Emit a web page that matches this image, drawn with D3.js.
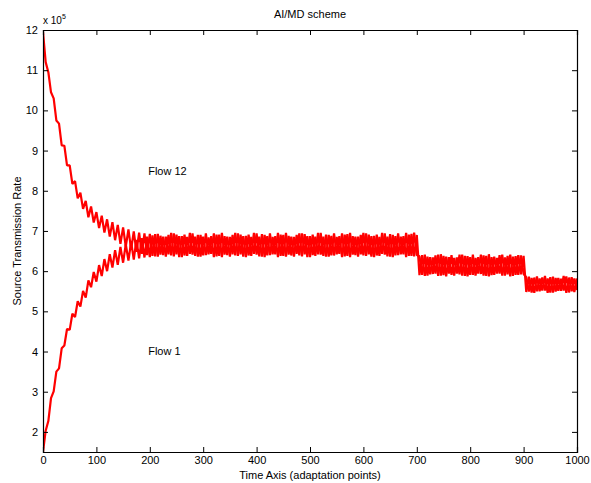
<!DOCTYPE html>
<html><head><meta charset="utf-8">
<script src="https://cdn.jsdelivr.net/npm/d3@7"></script>
<style>
body{margin:0;background:#fff;}
text{font-family:"Liberation Sans",Arial,Helvetica,sans-serif;}
</style></head>
<body><svg id="chart" width="591" height="483"></svg>
<script>
// adaptation points: 0..1000 every 5
const timePoints = d3.range(0, 1001, 5);
const xTicks = [0,100,200,300,400,500,600,700,800,900,1000];
const yTicks = [2,3,4,5,6,7,8,9,10,11,12];
// rates in units of 1e5
const flow12 = [
 11.95,11.2,10.95,10.45,10.3,9.75,9.67,9.13,9.12,8.63,
 8.63,8.17,8.24,7.81,7.95,7.55,7.75,7.34,7.61,7.21,
 7.47,7.07,7.38,6.96,7.29,6.86,7.22,6.77,7.15,6.68,
 7.09,6.61,7.04,6.54,6.99,6.48,6.96,6.43,6.94,6.40,6.93,
 6.38,6.92,6.36,6.88,6.40,6.86,6.42,6.95,6.37,6.91,
 6.35,6.87,6.39,6.85,6.43,6.94,6.38,6.90,6.36,6.86,
 6.40,6.84,6.43,6.94,6.37,6.91,6.35,6.87,6.40,6.85,
 6.42,6.95,6.38,6.91,6.36,6.88,6.39,6.85,6.43,6.94,
 6.37,6.92,6.35,6.87,6.40,6.85,6.42,6.95,6.38,6.90,
 6.36,6.88,6.39,6.85,6.43,6.94,6.37,6.92,6.35,6.87,
 6.40,6.86,6.42,6.95,6.38,6.91,6.36,6.88,6.39,6.85,
 6.43,6.94,6.37,6.92,6.35,6.87,6.40,6.86,6.42,6.95,
 6.38,6.91,6.36,6.88,6.39,6.85,6.43,6.94,6.37,6.92,
 6.35,6.87,6.40,6.86,6.42,6.95,6.38,6.93,6.37,6.90,
 5.90,6.40,5.88,6.36,5.92,6.34,5.94,6.41,5.89,6.38,
 5.87,6.35,5.91,6.33,5.94,6.41,5.89,6.38,5.87,6.35,
 5.91,6.33,5.94,6.41,5.89,6.38,5.87,6.35,5.91,6.33,
 5.94,6.41,5.89,6.38,5.87,6.36,5.91,6.40,5.92,6.38,
 5.48,5.86,5.47,5.84,5.50,5.82,5.52,5.88,5.46,5.85,
 5.47,5.83,5.51,5.81,5.52,5.87,5.47,5.85,5.48,5.82
];
const flow1 = [
 1.5,2.03,2.27,2.84,3.01,3.5,3.58,4.08,4.15,4.56,
 4.54,4.94,4.86,5.25,5.12,5.51,5.34,5.77,5.6,5.98,
 5.74,6.15,5.88,6.30,6.0,6.42,6.09,6.52,6.16,6.60,
 6.21,6.67,6.26,6.73,6.29,6.78,6.32,6.82,6.34,6.86,6.35,
 6.89,6.37,6.93,6.41,6.86,6.36,6.90,6.39,6.94,6.42,
 6.87,6.35,6.91,6.38,6.95,6.41,6.86,6.36,6.90,6.39,
 6.94,6.42,6.87,6.35,6.91,6.38,6.95,6.41,6.86,6.36,
 6.90,6.39,6.94,6.42,6.87,6.35,6.91,6.38,6.95,6.41,
 6.86,6.36,6.90,6.39,6.94,6.42,6.87,6.35,6.91,6.38,
 6.95,6.41,6.86,6.36,6.90,6.39,6.94,6.42,6.87,6.35,
 6.91,6.38,6.95,6.41,6.86,6.36,6.90,6.39,6.94,6.42,
 6.87,6.35,6.91,6.38,6.95,6.41,6.86,6.36,6.90,6.39,
 6.94,6.42,6.87,6.35,6.91,6.38,6.95,6.41,6.86,6.36,
 6.90,6.39,6.94,6.42,6.87,6.35,6.91,6.38,6.96,6.40,
 6.37,5.91,6.41,5.89,6.35,5.93,6.39,5.88,6.42,5.90,
 6.36,5.94,6.40,5.89,6.34,5.92,6.41,5.88,6.37,5.91,
 6.41,5.89,6.35,5.93,6.39,5.88,6.42,5.90,6.36,5.94,
 6.40,5.89,6.34,5.92,6.41,5.88,6.37,5.91,6.39,5.93,
 5.85,5.49,5.83,5.46,5.87,5.50,5.84,5.52,5.82,5.47,
 5.86,5.49,5.83,5.51,5.88,5.46,5.84,5.50,5.82,5.53
];
const seriesNames = ["Flow 12","Flow 1"];

const svg = d3.select("#chart");
const m = {left:43, right:14, top:30, bottom:31};
const W = 591, H = 483;
const x = d3.scaleLinear().domain([0,1000]).range([m.left, W-m.right]);
const y = d3.scaleLinear().domain([1.5,12]).range([H-m.bottom, m.top]);

svg.append("rect").attr("width",W).attr("height",H).attr("fill","#fff");

svg.append("defs").append("clipPath").attr("id","clip")
  .append("rect").attr("x",x(0)).attr("y",y(12)).attr("width",x(1000)-x(0)).attr("height",y(1.5)-y(12));

const line = d3.line().x((d,i)=>x(timePoints[i])).y(d=>y(d));
const g = svg.append("g").attr("clip-path","url(#clip)");
[flow12, flow1].forEach(s=>{
  g.append("path").datum(s).attr("d",line).attr("fill","none")
   .attr("stroke","#ff0000").attr("stroke-width",2.2).attr("stroke-linejoin","bevel");
});

// axes with inward ticks on all four sides
const tl = 5;
const fs = "11px";
const xb = d3.axisBottom(x).tickValues(xTicks).tickSize(-tl).tickPadding(4).tickFormat(d3.format("d"));
const xt = d3.axisTop(x).tickValues(xTicks).tickSize(-tl).tickFormat("");
const yl = d3.axisLeft(y).tickValues(yTicks).tickSize(-tl).tickPadding(5).tickFormat(d3.format("d"));
const yr = d3.axisRight(y).tickValues(yTicks).tickSize(-tl).tickFormat("");
function style(sel){ sel.select(".domain").attr("stroke","#000").attr("stroke-width",1.2);
  sel.selectAll(".tick line").attr("stroke","#000");
  sel.selectAll("text").attr("font-size",fs).attr("fill","#000").style("font-family","Liberation Sans, Arial, sans-serif"); }
svg.append("g").attr("transform",`translate(0,${y(1.5)})`).call(xb).call(style);
svg.append("g").attr("transform",`translate(0,${y(12)})`).call(xt).call(style);
svg.append("g").attr("transform",`translate(${x(0)},0)`).call(yl).call(style);
svg.append("g").attr("transform",`translate(${x(1000)},0)`).call(yr).call(style);

// labels
svg.append("text").attr("x",(x(0)+x(1000))/2).attr("y",18).attr("text-anchor","middle").attr("font-size",fs).text("AI/MD scheme");
svg.append("text").attr("x",(x(0)+x(1000))/2).attr("y",479).attr("text-anchor","middle").attr("font-size",fs).text("Time Axis (adaptation points)");
svg.append("text").attr("transform",`translate(21,${(y(1.5)+y(12))/2}) rotate(-90)`).attr("text-anchor","middle").attr("font-size",fs).text("Source Transmission Rate");
const ex = svg.append("text").attr("x",x(0)).attr("y",y(12)-6).attr("font-size","10px");
ex.append("tspan").text("x 10");
ex.append("tspan").attr("font-size","7px").attr("dy",-5).text("5");

svg.append("text").attr("x",x(197)).attr("y",y(8.5)).attr("dy","0.35em").attr("font-size",fs).text(seriesNames[0]);
svg.append("text").attr("x",x(197)).attr("y",y(4)).attr("dy","0.35em").attr("font-size",fs).text(seriesNames[1]);
</script></body></html>
